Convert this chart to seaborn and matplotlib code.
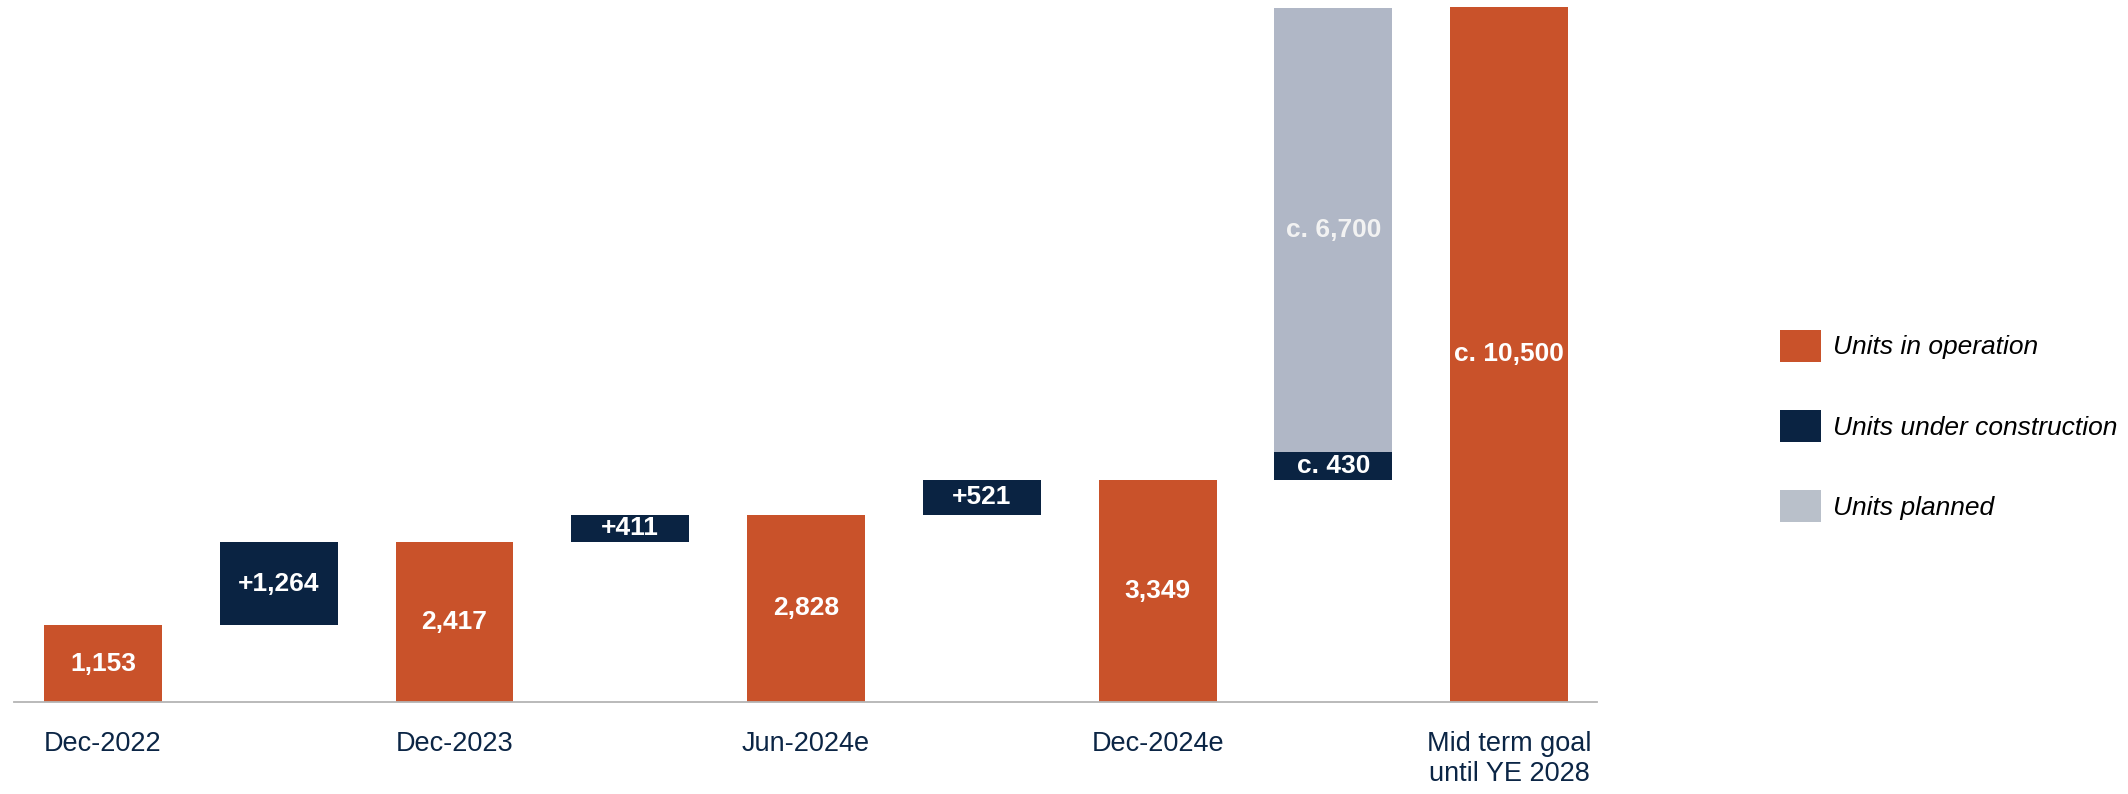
import matplotlib
matplotlib.use("Agg")
import matplotlib.pyplot as plt
from matplotlib import font_manager
from matplotlib.patches import Patch
import seaborn as sns
import pandas as pd

# ---------------- data ----------------
steps = ["Dec-2022", "d2023", "Dec-2023", "d2024h1", "Jun-2024e",
         "d2024h2", "Dec-2024e", "pipeline", "goal"]
tick_labels = ["Dec-2022", "", "Dec-2023", "", "Jun-2024e", "",
               "Dec-2024e", "", "Mid term goal\nuntil YE 2028"]
operation = [1153, 0, 2417, 0, 2828, 0, 3349, 0, 10500]
construction = [0, 1264, 0, 411, 0, 521, 0, 430, 0]
planned = [0, 0, 0, 0, 0, 0, 0, 6700, 0]
operation_labels = ["1,153", "", "2,417", "", "2,828", "", "3,349", "", "c. 10,500"]
construction_labels = ["", "+1,264", "", "+411", "", "+521", "", "c. 430", ""]
planned_labels = ["", "", "", "", "", "", "", "c. 6,700", ""]
legend_labels = ["Units in operation", "Units under construction", "Units planned"]

# waterfall bottoms derived from the running level
construction_bottom = []
level = 0
for op, cons in zip(operation, construction):
    if op:
        level = op
    construction_bottom.append(level if cons else 0)
planned_bottom = [construction_bottom[i] + construction[i] if planned[i] else 0
                  for i in range(len(steps))]

# ---------------- style ----------------
ORANGE = "#C9522A"
NAVY = "#0A2342"
GREY = "#B0B7C6"
GREY_LEG = "#B9C0CA"
TEXT_NAVY = "#0B2545"

sns.set_theme(style="white")
names = {f.name for f in font_manager.fontManager.ttflist}
FONT = "Liberation Sans" if "Liberation Sans" in names else "DejaVu Sans"
plt.rcParams["font.family"] = [FONT, "DejaVu Sans"]
FAM = [FONT, "DejaVu Sans"]

fig = plt.figure(figsize=(21.28, 7.94), dpi=100)
ax = fig.add_axes([14 / 2128, 92.3 / 794, (1597 - 14) / 2128, (787 - 92.3) / 794])

W = 0.671
df = pd.DataFrame({"step": steps, "operation": operation, "construction": construction,
                   "planned": planned})

sns.barplot(data=df, x="step", y="operation", order=steps, color=ORANGE,
            saturation=1, width=W, linewidth=0, errorbar=None, ax=ax)
sns.barplot(data=df, x="step", y="construction", order=steps, color=NAVY,
            saturation=1, width=W, linewidth=0, errorbar=None, ax=ax,
            bottom=construction_bottom)
sns.barplot(data=df, x="step", y="planned", order=steps, color=GREY,
            saturation=1, width=W, linewidth=0, errorbar=None, ax=ax,
            bottom=planned_bottom)

conts = ax.containers
bold = dict(family=FAM, weight="bold", size=19)
ax.bar_label(conts[0], labels=operation_labels, label_type="center",
             color="white", **bold)
ax.bar_label(conts[1], labels=construction_labels, label_type="center",
             color="white", **bold)
ax.bar_label(conts[2], labels=planned_labels, label_type="center",
             color="#F2F2F2", **bold)

ax.set_xlim(-0.506, 8.5)
ax.set_ylim(0, 10500)
ax.set_xlabel("")
ax.set_ylabel("")
ax.set_yticks([])
ax.set_xticks(range(len(steps)))
ax.set_xticklabels(tick_labels, fontsize=19.5, color=TEXT_NAVY,
                   family=FAM, linespacing=1.22)
ax.tick_params(axis="x", length=0, pad=21)
for s in ["top", "right", "left"]:
    ax.spines[s].set_visible(False)
ax.spines["bottom"].set_color("#B4B4B4")
ax.spines["bottom"].set_linewidth(1.3)
for c in conts:
    for p in c:
        p.set_clip_on(False)

handles = [Patch(facecolor=ORANGE, edgecolor="none"),
           Patch(facecolor=NAVY, edgecolor="none"),
           Patch(facecolor=GREY_LEG, edgecolor="none")]
leg = fig.legend(handles, legend_labels, loc="center left",
                 bbox_to_anchor=(1780 / 2128, 1 - 426 / 794),
                 frameon=False, borderpad=0, borderaxespad=0,
                 handlelength=1.55, handleheight=1.48, handletextpad=0.45,
                 labelspacing=1.84,
                 prop=dict(family=FAM, style="italic", size=19))
for t in leg.get_texts():
    t.set_color("black")

fig.savefig("out.png", dpi=100)
